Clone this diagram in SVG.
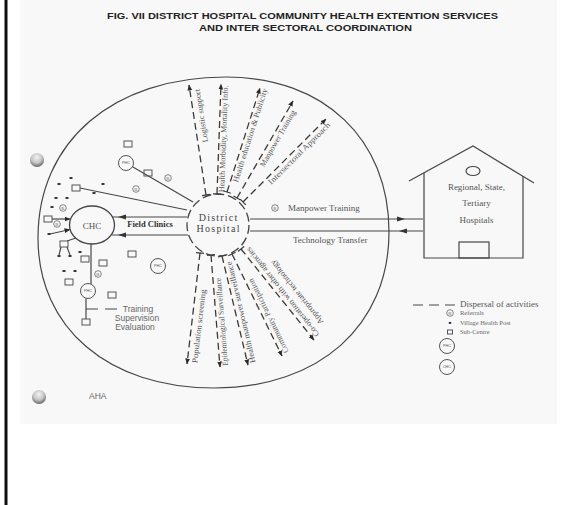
<svg xmlns="http://www.w3.org/2000/svg" xmlns:xlink="http://www.w3.org/1999/xlink" width="577" height="505" viewBox="0 0 577 505">
<defs>
<style>
.ln{fill:none;stroke:#474747;stroke-width:1.2}
.ray{fill:none;stroke:#3a3a3a;stroke-width:1.3;stroke-dasharray:7 4;marker-end:url(#ah)}
.tk{stroke:#3a3a3a;stroke-width:1.2}
.lb{font-family:"Liberation Serif","Times New Roman",serif;font-size:8px;fill:#555}
.sc{fill:none;stroke:#555;stroke-width:1}
.vp{fill:#222}
.rc{fill:none;stroke:#666;stroke-width:0.8}
.rt{font-family:"Liberation Serif",serif;font-size:5px;fill:#666;text-anchor:middle}
.pc{fill:none;stroke:#555;stroke-width:1}
.pt{font-family:"Liberation Sans",Arial,sans-serif;font-size:3.8px;fill:#555;text-anchor:middle}
.sans{font-family:"Liberation Sans",Arial,sans-serif}
.serif{font-family:"Liberation Serif","Times New Roman",serif}
</style>
<marker id="ah" viewBox="0 0 6 6" refX="5.5" refY="3" markerWidth="6" markerHeight="6" markerUnits="userSpaceOnUse" orient="auto"><path d="M0,0.6 L6,3 L0,5.4 z" fill="#2b2b2b"/></marker>
<marker id="ah2" viewBox="0 0 8 6" refX="8" refY="3" markerWidth="8" markerHeight="6" markerUnits="userSpaceOnUse" orient="auto"><path d="M0,0.6 L8,3 L0,5.4 z" fill="#333"/></marker>
<radialGradient id="ball" cx="0.45" cy="0.35" r="0.7" fx="0.5" fy="0.3"><stop offset="0" stop-color="#f4f4f4"/><stop offset="0.55" stop-color="#c4c4c4"/><stop offset="1" stop-color="#555"/></radialGradient>
<g id="rsym"><circle r="3.3" class="rc"/><text y="1.7" class="rt">R</text></g>
<g id="phc"><circle r="7.5" class="pc"/><text y="1.3" class="pt">PHC</text></g>
<rect id="sub" x="-4" y="-3" width="8" height="6" class="sc"/>
<rect id="vhp" x="-1.5" y="-0.9" width="3" height="1.8" class="vp"/>
</defs>

<rect width="577" height="505" fill="#fff"/>
<rect x="20" y="0" width="537" height="424" fill="#f8f8f8"/>
<rect x="4.5" y="0" width="3" height="505" fill="#111"/>
<circle cx="37" cy="160" r="7" fill="url(#ball)"/>
<circle cx="39" cy="397" r="7" fill="url(#ball)"/>

<g id="title" class="sans" font-weight="bold" font-size="8.8" fill="#222" text-anchor="middle">
<text x="302.5" y="18.5" textLength="391" lengthAdjust="spacingAndGlyphs">FIG. VII  DISTRICT HOSPITAL COMMUNITY HEALTH EXTENTION SERVICES</text>
<text x="305.5" y="30.5" textLength="213" lengthAdjust="spacingAndGlyphs">AND INTER SECTORAL COORDINATION</text>
</g>

<g id="district-boundary">
<path class="ln" d="M226,77 C323.8,77 389,139 389,232 C389,325.6 319,388 214,388 C108.4,388 38,328 38,238 C38,141.4 113.2,77 226,77 Z"/>
</g>

<g id="connectors">
<path class="ray" d="M206,195 L189,85"/>
<path class="ray" d="M217,194 L221,84"/>
<path class="ray" d="M227,192 L260,88"/>
<path class="ray" d="M237,198 L293,101"/>
<path class="ray" d="M243,202 L326,119"/>
<path class="ray" d="M200,253 L187,364"/>
<path class="ray" d="M211,255 L220,367"/>
<path class="ray" d="M222,256 L248,365"/>
<path class="ray" d="M232,254 L282,356"/>
<path class="ray" d="M241,249 L314,340"/>
<g class="tk">
<line x1="202.05" y1="195.61" x2="209.95" y2="194.39"/>
<line x1="213" y1="193.85" x2="221" y2="194.15"/>
<line x1="223.19" y1="190.79" x2="230.81" y2="193.21"/>
<line x1="233.54" y1="196" x2="240.46" y2="200"/>
<line x1="240.17" y1="199.17" x2="245.83" y2="204.83"/>
<line x1="196.03" y1="252.53" x2="203.97" y2="253.47"/>
<line x1="207.01" y1="255.32" x2="214.99" y2="254.68"/>
<line x1="218.11" y1="256.93" x2="225.89" y2="255.07"/>
<line x1="228.41" y1="255.76" x2="235.59" y2="252.24"/>
<line x1="237.88" y1="251.5" x2="244.12" y2="246.5"/>
</g>
<path class="ln" d="M250,219 L405,219 L423,219" marker-mid="url(#ah2)"/>
<path class="ln" d="M423,231 L399,231 L250,231" marker-mid="url(#ah2)"/>
<path class="ln" d="M187,217 L118,217 L112,217" marker-mid="url(#ah2)"/>
<path class="ln" d="M188,235 L118,235 L112,235" marker-mid="url(#ah2)"/>
<line class="ln" x1="187" y1="210" x2="80" y2="188"/>
<line class="ln" x1="193" y1="202" x2="132.5" y2="166.8"/>
<path class="ln" d="M52,219 L70,219" marker-end="url(#ah)"/>
<path class="ln" d="M50,234 L70,229.5" marker-end="url(#ah)"/>
<line class="ln" x1="76" y1="238" x2="67" y2="241"/>
<line class="ln" x1="61" y1="247" x2="59" y2="255"/>
<line class="ln" x1="67" y1="247" x2="70" y2="255"/>
<line class="ln" x1="91" y1="244" x2="91" y2="284"/>
<line class="ln" x1="86" y1="298.5" x2="86" y2="319"/>
<line class="ln" x1="86" y1="309" x2="117" y2="309" stroke-dasharray="12 7"/>
</g>

<g id="ray-labels" class="lb">
<text transform="translate(207.9,142.1) rotate(-98.8)" textLength="54" lengthAdjust="spacingAndGlyphs">Logistic support</text>
<text transform="translate(224.1,192.3) rotate(-87.9)" textLength="107" lengthAdjust="spacingAndGlyphs">Health Morbidity, Mortality Info.</text>
<text transform="translate(237.8,182.8) rotate(-72.4)" textLength="98" lengthAdjust="spacingAndGlyphs">Health education &amp; Publicity</text>
<text transform="translate(263.9,167.4) rotate(-60)" textLength="64" lengthAdjust="spacingAndGlyphs">Manpower Training</text>
<text transform="translate(271.3,185) rotate(-45)" textLength="84" lengthAdjust="spacingAndGlyphs">Intersectoral Approach</text>
<text transform="translate(197.2,363.2) rotate(-83.3)" textLength="74" lengthAdjust="spacingAndGlyphs">Population screening</text>
<text transform="translate(227.9,365.4) rotate(-94.6)" textLength="88" lengthAdjust="spacingAndGlyphs">Epidemiological Surveillance</text>
<text transform="translate(255.5,362.2) rotate(-103.4)" textLength="104" lengthAdjust="spacingAndGlyphs">Health manpower surveillance</text>
<text transform="translate(288.7,351.6) rotate(-116.1)" textLength="82" lengthAdjust="spacingAndGlyphs">Community Participation</text>
<text transform="translate(319.6,334.2) rotate(-128.7)" textLength="112" lengthAdjust="spacingAndGlyphs">Co-operation with other agencies</text>
<text transform="translate(323.8,321.9) rotate(-128.7)" textLength="80" lengthAdjust="spacingAndGlyphs">Appropriate technology</text>
</g>

<g id="district-hospital">
<circle cx="218" cy="225" r="31" fill="none" stroke="#444" stroke-width="1.3" stroke-dasharray="9 4"/>
<text class="serif" x="218.6" y="221" font-size="10" letter-spacing="1.2" fill="#444" text-anchor="middle">District</text>
<text class="serif" x="218.6" y="231.5" font-size="10" letter-spacing="1.3" fill="#444" text-anchor="middle">Hospital</text>
</g>

<g id="chc">
<ellipse cx="92" cy="225" rx="22.5" ry="19" fill="none" stroke="#444" stroke-width="1.3"/>
<text class="serif" x="92" y="228.5" font-size="9" fill="#555" text-anchor="middle">CHC</text>
</g>

<text id="field-clinics" class="serif" x="150" y="227" font-size="8.5" font-weight="bold" fill="#333" text-anchor="middle">Field Clinics</text>

<g id="phcs">
<use id="phc-1" xlink:href="#phc" x="126" y="163"/>
<use id="phc-2" xlink:href="#phc" x="158" y="266"/>
<use id="phc-3" xlink:href="#phc" x="88" y="291"/>
</g>

<g id="sub-centres">
<use xlink:href="#sub" x="128" y="144"/>
<use xlink:href="#sub" x="148" y="173"/>
<use xlink:href="#sub" x="76" y="188"/>
<use xlink:href="#sub" x="48" y="219"/>
<use xlink:href="#sub" x="64" y="244"/>
<use xlink:href="#sub" x="85" y="259"/>
<use xlink:href="#sub" x="103" y="263"/>
<use xlink:href="#sub" x="132" y="254"/>
<use xlink:href="#sub" x="69" y="282"/>
<use xlink:href="#sub" x="112" y="295"/>
<use xlink:href="#sub" x="86" y="322"/>
</g>

<g id="village-health-posts">
<use xlink:href="#vhp" x="71" y="178"/>
<use xlink:href="#vhp" x="59" y="184"/>
<use xlink:href="#vhp" x="103" y="184"/>
<use xlink:href="#vhp" x="94" y="193"/>
<use xlink:href="#vhp" x="56" y="198"/>
<use xlink:href="#vhp" x="67" y="198"/>
<use xlink:href="#vhp" x="52" y="207"/>
<use xlink:href="#vhp" x="49" y="234"/>
<use xlink:href="#vhp" x="59" y="256"/>
<use xlink:href="#vhp" x="70" y="256"/>
<use xlink:href="#vhp" x="80" y="252"/>
<use xlink:href="#vhp" x="64" y="271"/>
<use xlink:href="#vhp" x="75" y="271"/>
</g>

<g id="referrals">
<use xlink:href="#rsym" x="168" y="178"/>
<use xlink:href="#rsym" x="136" y="189"/>
<use xlink:href="#rsym" x="63" y="208"/>
<use xlink:href="#rsym" x="57" y="224"/>
<use xlink:href="#rsym" x="98" y="274"/>
<use xlink:href="#rsym" x="275" y="208"/>
</g>

<g id="link-labels" class="serif" font-size="9" fill="#555">
<text x="288" y="211">Manpower Training</text>
<text x="293" y="243">Technology Transfer</text>
</g>

<g id="training-note" class="sans" font-size="8.5" fill="#666" text-anchor="middle">
<text x="138" y="312">Training</text>
<text x="137" y="321">Supervision</text>
<text x="135" y="330">Evaluation</text>
</g>

<g id="referral-hospitals">
<polyline class="ln" points="409,181 473,146 534,183"/>
<polyline class="ln" points="424,173 424,258 523,258 523,176"/>
<rect class="ln" x="459" y="242" width="30" height="16"/>
<ellipse class="ln" cx="473" cy="171" rx="7" ry="4.5"/>
<g class="serif" font-size="9" fill="#555" text-anchor="middle">
<text x="476.5" y="190">Regional, State,</text>
<text x="476.5" y="206">Tertiary</text>
<text x="476.5" y="222.5">Hospitals</text>
</g>
</g>

<g id="legend">
<line class="ln" x1="413" y1="305" x2="455" y2="305" stroke-dasharray="10 6"/>
<text class="serif" x="460" y="307" font-size="9" fill="#555">Dispersal of activities</text>
<use xlink:href="#rsym" x="450" y="313"/>
<text class="serif" x="460" y="315" font-size="6.5" fill="#666">Referrals</text>
<rect x="448.8" y="322" width="2.4" height="1.8" class="vp"/>
<text class="serif" x="460" y="324.5" font-size="6.5" fill="#666">Village Health Post</text>
<rect x="447.5" y="330" width="5" height="4" class="sc"/>
<text class="serif" x="460" y="333.5" font-size="6.5" fill="#666">Sub-Centre</text>
<use xlink:href="#phc" x="447" y="346"/>
<circle cx="447" cy="367" r="7.5" class="pc"/>
<text x="447" y="368.3" class="pt">CHC</text>
</g>

<text id="aha" class="sans" x="89" y="399" font-size="8.5" fill="#666">AHA</text>
</svg>
